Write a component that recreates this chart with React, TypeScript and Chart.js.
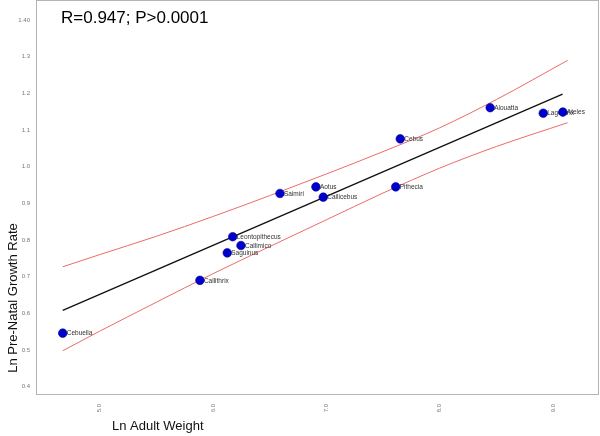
import React, { useEffect, useRef } from "react";
import { Chart, registerables } from "chart.js";

Chart.register(...registerables);

// ---- data ----
const genera = [
  "Cebuella", "Callithrix", "Saguinus", "Leontopithecus", "Callimico", "Saimiri",
  "Aotus", "Callicebus", "Pithecia", "Cebus", "Alouatta", "Lagothrix", "Ateles",
];
const lnAdultWeight = [4.676, 5.886, 6.127, 6.175, 6.248, 6.592, 6.909, 6.974, 7.613, 7.653, 8.446, 8.914, 9.087];
const lnGrowthRate = [0.546, 0.690, 0.765, 0.809, 0.785, 0.927, 0.945, 0.917, 0.945, 1.076, 1.161, 1.146, 1.149];

const fitX = [4.676, 9.085];
const fitY = [0.608, 1.198];

const ciX = [4.676, 5.0, 5.5, 6.0, 6.5, 7.0, 7.5, 8.0, 8.5, 9.129];
const ciUpper = [0.727, 0.760, 0.810, 0.864, 0.921, 0.980, 1.041, 1.106, 1.183, 1.290];
const ciLower = [0.498, 0.551, 0.630, 0.708, 0.782, 0.855, 0.928, 0.996, 1.055, 1.120];

const xTicks = [5, 6, 7, 8, 9];
const xTickLabels = ["5.0", "6.0", "7.0", "8.0", "9.0"];
const yTicks = [0.4, 0.5, 0.6, 0.7, 0.8, 0.9, 1.0, 1.1, 1.2, 1.3, 1.4];
const yTickLabels = ["0.4", "0.5", "0.6", "0.7", "0.8", "0.9", "1.0", "1.1", "1.2", "1.3", "1.40"];

const statText = "R=0.947; P>0.0001";
const xTitle = "Ln Adult Weight";
const yTitle = "Ln Pre-Natal Growth Rate";

const FONT = '"Liberation Sans", Arial, sans-serif';

const overlay = {
  id: "overlay",
  afterDatasetDraw(chart: any, args: any) {
    if (args.index !== 1) return;
    const ctx = chart.ctx;
    const meta = chart.getDatasetMeta(0);
    ctx.save();
    ctx.font = `6.5px ${FONT}`;
    ctx.fillStyle = "#333";
    ctx.textAlign = "left";
    ctx.textBaseline = "middle";
    meta.data.forEach((el: any, i: number) => {
      ctx.fillText(genera[i], el.x + 4, el.y + 0.5);
    });
    ctx.restore();
  },
  afterDraw(chart: any) {
    const ctx = chart.ctx;
    const { left, top, right, bottom } = chart.chartArea;
    ctx.save();
    ctx.strokeStyle = "#b4b4b4";
    ctx.lineWidth = 1;
    ctx.strokeRect(Math.round(left) - 0.5, Math.round(top) - 0.5, Math.round(right - left) + 1, Math.round(bottom - top) + 1);

    ctx.fillStyle = "#000";
    ctx.font = `17px ${FONT}`;
    ctx.textAlign = "left";
    ctx.textBaseline = "alphabetic";
    ctx.fillText(statText, 61, 23);

    ctx.fillStyle = "#111";
    ctx.font = `13px ${FONT}`;
    ctx.textAlign = "left";
    ctx.textBaseline = "middle";
    ctx.fillText(xTitle, 112, 426);

    ctx.translate(13, 298);
    ctx.rotate(-Math.PI / 2);
    ctx.textAlign = "center";
    ctx.fillText(yTitle, 0, 0);
    ctx.restore();
  },
};

const zeroPad = (scale: any) => {
  scale.paddingTop = 0;
  scale.paddingBottom = 0;
  scale.paddingLeft = 0;
  scale.paddingRight = 0;
};

export default function App() {
  const ref = useRef<HTMLCanvasElement | null>(null);

  useEffect(() => {
    if (!ref.current) return;
    const chart = new Chart(ref.current, {
      type: "scatter",
      data: {
        datasets: [
          {
            label: "genera",
            data: lnAdultWeight.map((x, i) => ({ x, y: lnGrowthRate[i] })),
            pointRadius: 4.3,
            pointBackgroundColor: "#0000cd",
            pointBorderColor: "#00008b",
            pointBorderWidth: 0.6,
            showLine: false,
          },
          {
            label: "fit",
            data: fitX.map((x, i) => ({ x, y: fitY[i] })),
            showLine: true,
            borderColor: "#111",
            borderWidth: 1.4,
            pointRadius: 0,
          },
          {
            label: "upper",
            data: ciX.map((x, i) => ({ x, y: ciUpper[i] })),
            showLine: true,
            borderColor: "#ec6a6a",
            borderWidth: 1,
            pointRadius: 0,
            cubicInterpolationMode: "monotone",
          },
          {
            label: "lower",
            data: ciX.map((x, i) => ({ x, y: ciLower[i] })),
            showLine: true,
            borderColor: "#ec6a6a",
            borderWidth: 1,
            pointRadius: 0,
            cubicInterpolationMode: "monotone",
          },
        ],
      },
      options: {
        responsive: false,
        animation: false,
        layout: { autoPadding: false, padding: { top: 1, right: 2, left: 0, bottom: 0 } },
        plugins: { legend: { display: false }, tooltip: { enabled: false } },
        scales: {
          x: {
            type: "linear",
            min: 4.449,
            max: 9.397,
            grid: { display: false, drawTicks: false },
            border: { display: false },
            afterBuildTicks: (scale: any) => {
              scale.ticks = xTicks.map((v) => ({ value: v }));
            },
            afterFit: (scale: any) => {
              scale.height = 42;
              zeroPad(scale);
            },
            ticks: {
              minRotation: 90,
              maxRotation: 90,
              padding: 10,
              color: "#777",
              font: { size: 6, family: FONT },
              callback: (v: any) => xTickLabels[xTicks.indexOf(Number(v))] ?? "",
            },
          },
          y: {
            type: "linear",
            min: 0.38,
            max: 1.452,
            grid: { display: false, drawTicks: false },
            border: { display: false },
            afterBuildTicks: (scale: any) => {
              scale.ticks = yTicks.map((v) => ({ value: v }));
            },
            afterFit: (scale: any) => {
              scale.width = 37;
              zeroPad(scale);
            },
            ticks: {
              padding: 7,
              color: "#777",
              font: { size: 6, family: FONT },
              callback: (v: any) => {
                const i = yTicks.findIndex((t) => Math.abs(t - Number(v)) < 1e-6);
                return i >= 0 ? yTickLabels[i] : "";
              },
            },
          },
        },
      },
      plugins: [overlay],
    } as any);
    return () => chart.destroy();
  }, []);

  return (
    <div style={{ position: "absolute", left: 0, top: 0, width: 600, height: 436, background: "#fff" }}>
      <canvas ref={ref} width={600} height={436} style={{ display: "block", width: 600, height: 436 }} />
    </div>
  );
}
